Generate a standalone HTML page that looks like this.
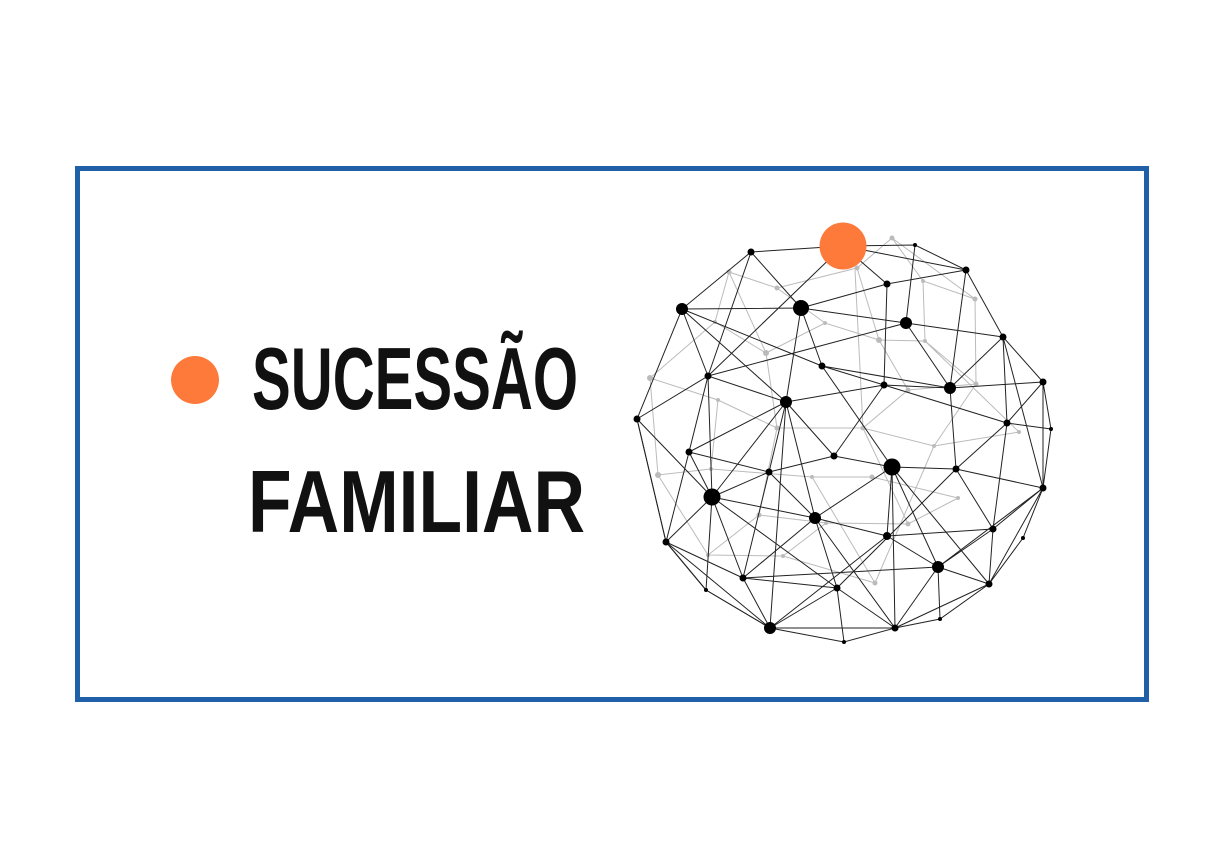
<!DOCTYPE html>
<html><head><meta charset="utf-8"><style>
html,body{margin:0;padding:0;background:#fff;width:1224px;height:868px;overflow:hidden}
</style></head><body>
<svg width="1224" height="868" viewBox="0 0 1224 868" xmlns="http://www.w3.org/2000/svg">
<rect x="77.5" y="168.5" width="1069" height="531" fill="none" stroke="#1f60a8" stroke-width="5"/>
<circle cx="195" cy="380" r="24" fill="#fd7a3a"/>
<text x="252" y="409" font-family="Liberation Sans, sans-serif" font-weight="bold" font-size="88" textLength="326" lengthAdjust="spacingAndGlyphs" fill="#111">SUCESSÃO</text>
<text x="248" y="532" font-family="Liberation Sans, sans-serif" font-weight="bold" font-size="88" textLength="337" lengthAdjust="spacingAndGlyphs" fill="#111">FAMILIAR</text>
<g stroke="#bbb" stroke-width="1" fill="none">
<path d="M729 272L777 288L857 268L892 238L923 281L975 299M729 272L715 322L766 353L825 323L879 340L925 341L976 384M777 288L825 323M857 268L879 340M923 281L925 341L1019 432M650 378L718 400L777 428L863 428L934 446L1019 432M650 378L715 322M650 378L658 475L711 469L812 477L872 477L958 498M718 400L711 469M777 428L759 515L826 523L908 524L958 498M863 428L908 524M934 446L875 583L783 556L708 555L658 475M826 523L783 556M759 515L708 555M766 353L777 428M892 238L975 299L976 384L934 446M729 272L766 353M855 270L863 428M812 477L875 583M908 390L976 384M908 390L863 428M908 390L879 340"/>
</g>
<g fill="#bbb">
<circle cx="729" cy="272" r="2.5"/><circle cx="777" cy="288" r="2.5"/><circle cx="857" cy="268" r="2.5"/><circle cx="892" cy="238" r="2.5"/><circle cx="923" cy="281" r="2"/><circle cx="975" cy="299" r="2.5"/><circle cx="825" cy="323" r="2"/><circle cx="766" cy="353" r="3"/><circle cx="715" cy="322" r="2"/><circle cx="879" cy="340" r="3"/><circle cx="925" cy="341" r="2"/><circle cx="650" cy="378" r="3"/><circle cx="718" cy="400" r="2"/><circle cx="908" cy="390" r="2.5"/><circle cx="976" cy="384" r="2.5"/><circle cx="777" cy="428" r="2.5"/><circle cx="863" cy="428" r="2.5"/><circle cx="934" cy="446" r="2"/><circle cx="1019" cy="432" r="2"/><circle cx="658" cy="475" r="3"/><circle cx="711" cy="469" r="2"/><circle cx="812" cy="477" r="2"/><circle cx="872" cy="477" r="2.5"/><circle cx="958" cy="498" r="2"/><circle cx="908" cy="524" r="2.5"/><circle cx="759" cy="515" r="2.5"/><circle cx="826" cy="523" r="2"/><circle cx="708" cy="555" r="2"/><circle cx="783" cy="556" r="2"/><circle cx="875" cy="583" r="2.5"/>
</g>
<g stroke="#222" stroke-width="1" fill="none">
<path d="M751 252L843 246L915 245L966 270L1003 337L1043 382L1051 429L1043 488L1023 538L989 584L940 619L895 628L844 642L770 628L706 590L666 542L637 419L682 309L751 252"/>
<path d="M751 252L801 308M751 252L708 376M843 246L708 376M843 246L887 284M843 246L966 270M682 309L801 308M682 309L708 376M682 309L822 366M682 309L786 402M801 308L906 323M801 308L887 284M801 308L822 366M801 308L786 402M906 323L1003 337M906 323L950 388M906 323L708 376M887 284L884 385M887 284L966 270M966 270L950 388M915 245L906 323M1003 337L950 388M1003 337L1007 423M1003 337L1043 488M708 376L786 402M708 376L689 452M708 376L712 497M708 376L637 419M822 366L884 385M822 366L950 388M822 366L892 467M884 385L950 388M884 385L1007 423M884 385L786 402M884 385L834 456M950 388L1043 382M950 388L956 469M1043 382L1007 423M1043 382L1043 488M637 419L712 497M637 419L666 542M786 402L834 456M786 402L769 472M786 402L815 518M786 402L712 497M786 402L689 452M786 402L770 628M1007 423L1051 429M1007 423L956 469M1007 423L993 529M689 452L769 472M689 452L712 497M689 452L666 542M834 456L769 472M834 456L892 467M892 467L956 469M892 467L887 536M892 467L938 567M892 467L989 584M892 467L815 518M892 467L895 628M956 469L1043 488M956 469L993 529M956 469L837 588M769 472L815 518M769 472L743 578M769 472L712 497M1043 488L993 529M1043 488L989 584M1043 488L938 567M712 497L815 518M712 497L743 578M712 497L666 542M712 497L706 590M712 497L837 588M815 518L887 536M815 518L837 588M815 518L895 628M815 518L743 578M887 536L938 567M887 536L993 529M887 536L770 628M993 529L989 584M993 529L938 567M666 542L706 590M666 542L770 628M666 542L743 578M938 567L940 619M938 567L989 584M938 567L743 578M938 567L895 628M743 578L837 588M743 578L770 628M837 588L770 628M837 588L895 628M837 588L844 642M989 584L895 628M706 590L770 628M770 628L895 628"/>
</g>
<g fill="#000">
<circle cx="751" cy="252" r="3.5"/><circle cx="682" cy="309" r="6"/><circle cx="801" cy="308" r="8"/><circle cx="906" cy="323" r="6"/><circle cx="966" cy="270" r="3.5"/><circle cx="887" cy="284" r="3.5"/><circle cx="915" cy="245" r="2"/><circle cx="1003" cy="337" r="3.5"/><circle cx="708" cy="376" r="3.5"/><circle cx="822" cy="366" r="3.5"/><circle cx="884" cy="385" r="3.5"/><circle cx="950" cy="388" r="6"/><circle cx="1043" cy="382" r="3.5"/><circle cx="637" cy="419" r="3.5"/><circle cx="786" cy="402" r="6"/><circle cx="1007" cy="423" r="3.5"/><circle cx="1051" cy="429" r="2"/><circle cx="689" cy="452" r="3.5"/><circle cx="834" cy="456" r="3.5"/><circle cx="892" cy="467" r="8.5"/><circle cx="956" cy="469" r="3.5"/><circle cx="769" cy="472" r="3.5"/><circle cx="1043" cy="488" r="3.5"/><circle cx="712" cy="497" r="8.5"/><circle cx="815" cy="518" r="6"/><circle cx="887" cy="536" r="4"/><circle cx="993" cy="529" r="3.5"/><circle cx="1023" cy="538" r="2"/><circle cx="666" cy="542" r="3.5"/><circle cx="938" cy="567" r="6"/><circle cx="743" cy="578" r="3.5"/><circle cx="837" cy="588" r="3.5"/><circle cx="989" cy="584" r="3.5"/><circle cx="706" cy="590" r="2"/><circle cx="770" cy="628" r="6"/><circle cx="895" cy="628" r="3.5"/><circle cx="940" cy="619" r="2"/><circle cx="844" cy="642" r="2"/>
</g>
<circle cx="843" cy="246" r="23.5" fill="#fd7a3a"/>
</svg>
</body></html>
